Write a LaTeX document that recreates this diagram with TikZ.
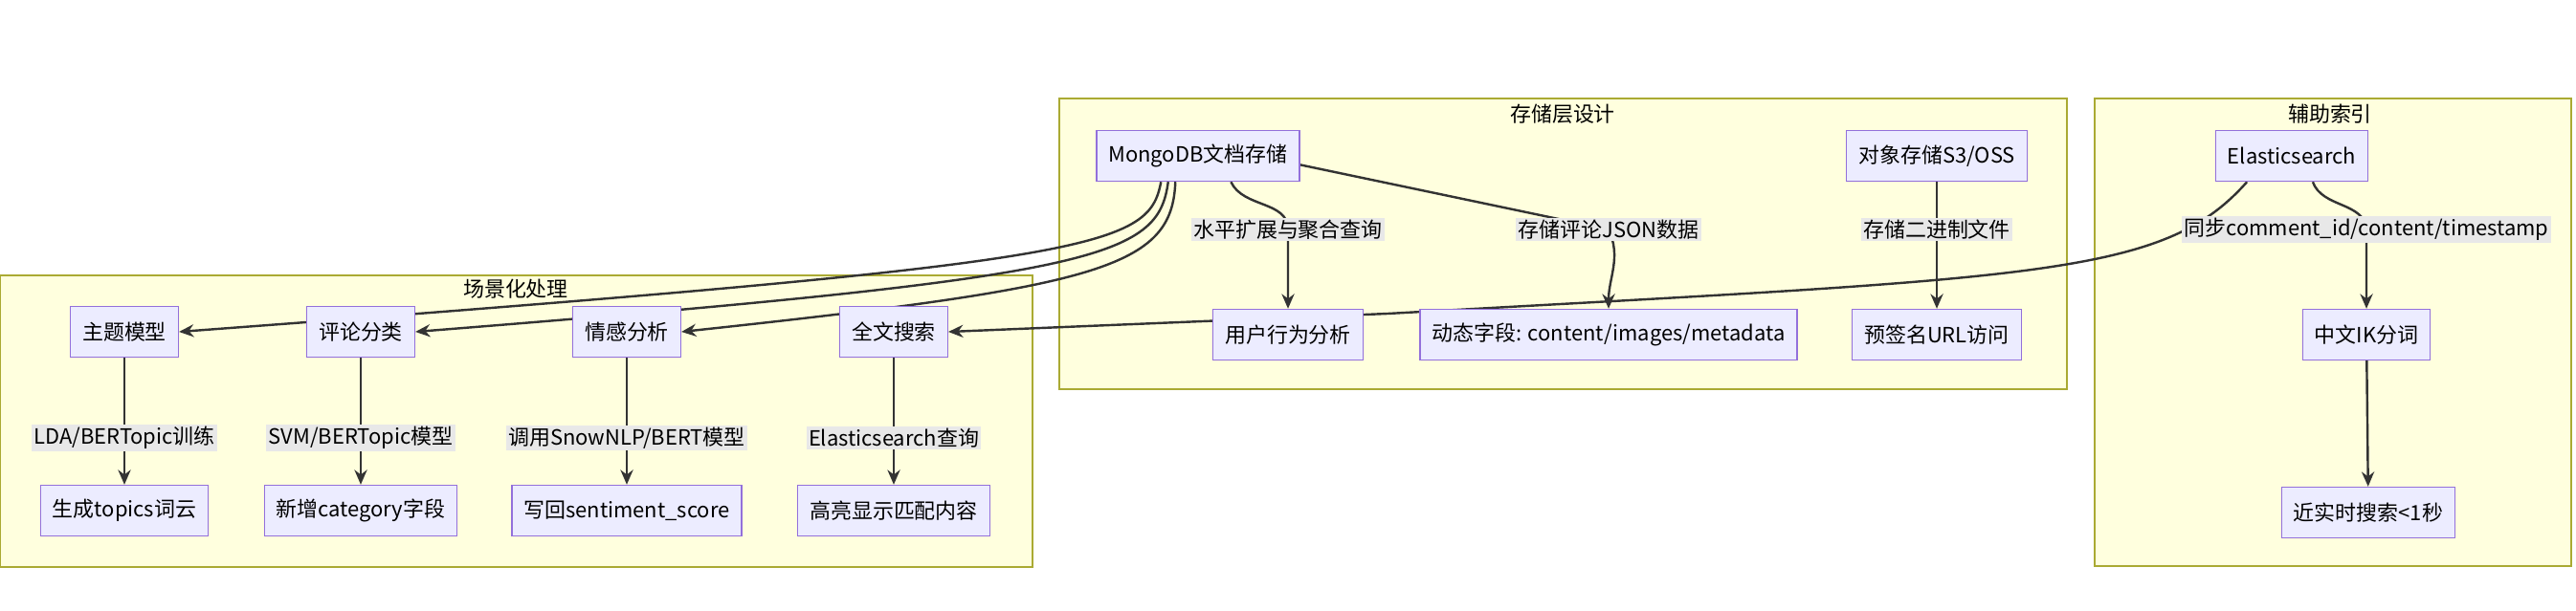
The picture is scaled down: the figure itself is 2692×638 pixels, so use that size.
\documentclass[tikz,border=0pt]{standalone}
\usepackage{fontspec}
\setmainfont{Noto Sans CJK SC}
\usepackage{tikz}
\usetikzlibrary{arrows.meta, positioning}
\pgfdeclarelayer{bg}
\pgfdeclarelayer{edges}
\pgfsetlayers{bg,edges,main}
\definecolor{clfill}{HTML}{FFFFDE}
\definecolor{cldraw}{HTML}{AAAA33}
\definecolor{ndfill}{HTML}{ECECFF}
\definecolor{nddraw}{HTML}{9370DB}
\definecolor{lbfill}{HTML}{E8E8E8}
\definecolor{edcol}{HTML}{333333}

\begin{document}
\begin{tikzpicture}[
        x=0.016cm, y=-0.016cm,
        font=\fontsize{10}{12}\selectfont,
        box/.style={rectangle, draw=nddraw, fill=ndfill, line width=0.6pt, minimum height=0.85cm, inner xsep=0.2cm},
        cluster/.style={draw=cldraw, fill=clfill, line width=0.6pt},
        lbl/.style={fill=lbfill, inner sep=1pt},
        edge/.style={draw=edcol, line width=1.1pt, -{Stealth[length=7pt, width=6pt]}}
    ]
    \useasboundingbox (0,0) rectangle (2692,638);

    % Clusters
    \begin{pgfonlayer}{bg}
        \draw[cluster] (0,288) rectangle (1079,593);
        \draw[cluster] (1107,103) rectangle (2160,407);
        \draw[cluster] (2189,103) rectangle (2687,592);
    \end{pgfonlayer}
    \node at (539,302) {场景化处理};
    \node at (1633,119) {存储层设计};
    \node at (2435,119) {辅助索引};

    % Storage layer
    \node[box] (mongo) at (1252,163) {MongoDB文档存储};
    \node[box] (oss) at (2024,163) {对象存储S3/OSS};
    \node[box] (user) at (1346,350) {用户行为分析};
    \node[box] (dyn) at (1681,350) {动态字段: content/images/metadata};
    \node[box] (url) at (2024,350) {预签名URL访问};

    % Aux index
    \node[box] (es) at (2395,163) {Elasticsearch};
    \node[box] (ik) at (2473,350) {中文IK分词};
    \node[box] (rt) at (2475,536) {近实时搜索<1秒};

    % Scene processing
    \node[box] (topic) at (130,347) {主题模型};
    \node[box] (cls) at (377,347) {评论分类};
    \node[box] (senti) at (655,347) {情感分析};
    \node[box] (search) at (934,347) {全文搜索};
    \node[box] (cloud) at (130,534) {生成topics词云};
    \node[box] (cat) at (377,534) {新增category字段};
    \node[box] (score) at (655,534) {写回sentiment\_score};
    \node[box] (hl) at (934,534) {高亮显示匹配内容};

    % Edge labels
    \node[lbl] (l1) at (1346,240) {水平扩展与聚合查询};
    \node[lbl] (l2) at (1681,240) {存储评论JSON数据};
    \node[lbl] (l3) at (2024,240) {存储二进制文件};
    \node[lbl] (l4) at (2473,240) {同步comment\_id/content/timestamp};
    \node[lbl] (l5) at (130,458) {LDA/BERTopic训练};
    \node[lbl] (l6) at (377,458) {SVM/BERTopic模型};
    \node[lbl] (l7) at (655,458) {调用SnowNLP/BERT模型};
    \node[lbl] (l8) at (934,458) {Elasticsearch查询};

    \begin{pgfonlayer}{edges}
        \draw[edge] ([xshift=-0.62cm]mongo.south) .. controls (1200,260) and (1150,275) .. (topic.east);
        \draw[edge] ([xshift=-0.5cm]mongo.south) .. controls (1210,270) and (1150,290) .. (cls.east);
        \draw[edge] ([xshift=-0.38cm]mongo.south) .. controls (1225,280) and (1150,300) .. (senti.east);
        \draw[edge] ([xshift=0.55cm]mongo.south) to[out=-65,in=90] (l1.center) -- (user.north);
        \draw[edge] ([yshift=-0.15cm]mongo.east) -- (l2.center) to[out=-65,in=90] (dyn.north);
        \draw[edge] (oss) -- (url);
        \draw[edge] ([xshift=-0.75cm]es.south) .. controls (2260,290) and (2130,290) .. (1450,328) -- (search.east);
        \draw[edge] ([xshift=0.35cm]es.south) to[out=-70,in=95] (l4.center) -- (ik.north);
        \draw[edge] (ik) -- (rt);
        \draw[edge] (topic) -- (cloud);
        \draw[edge] (cls) -- (cat);
        \draw[edge] (senti) -- (score);
        \draw[edge] (search) -- (hl);
    \end{pgfonlayer}
\end{tikzpicture}
\end{document}
